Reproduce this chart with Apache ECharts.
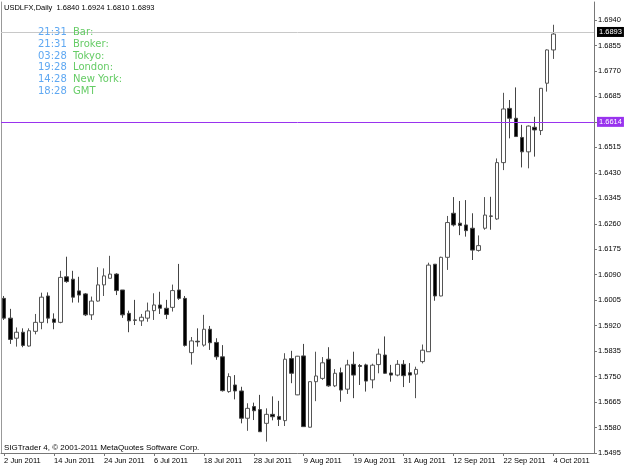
<!DOCTYPE html>
<html>
<head>
<meta charset="utf-8">
<title>USDLFX,Daily</title>
<script src="https://cdn.jsdelivr.net/npm/echarts@6/dist/echarts.min.js"></script>
<style>
  html, body { margin: 0; padding: 0; background: #fff; }
  #chart { width: 625px; height: 469px; }
</style>
</head>
<body>
<div id="chart"></div>
<script>
// daily bars, 2 Jun 2011 .. 4 Oct 2011
var dates = [
  '2 Jun 2011', '3 Jun 2011', '6 Jun 2011', '7 Jun 2011', '8 Jun 2011', '9 Jun 2011', '10 Jun 2011',
  '13 Jun 2011', '14 Jun 2011', '15 Jun 2011', '16 Jun 2011', '17 Jun 2011', '20 Jun 2011', '21 Jun 2011',
  '22 Jun 2011', '23 Jun 2011', '24 Jun 2011', '27 Jun 2011', '28 Jun 2011', '29 Jun 2011', '30 Jun 2011',
  '1 Jul 2011', '4 Jul 2011', '5 Jul 2011', '6 Jul 2011', '7 Jul 2011', '8 Jul 2011', '11 Jul 2011',
  '12 Jul 2011', '13 Jul 2011', '14 Jul 2011', '15 Jul 2011', '18 Jul 2011', '19 Jul 2011', '20 Jul 2011',
  '21 Jul 2011', '22 Jul 2011', '25 Jul 2011', '26 Jul 2011', '27 Jul 2011', '28 Jul 2011', '29 Jul 2011',
  '1 Aug 2011', '2 Aug 2011', '3 Aug 2011', '4 Aug 2011', '5 Aug 2011', '8 Aug 2011', '9 Aug 2011',
  '10 Aug 2011', '11 Aug 2011', '12 Aug 2011', '15 Aug 2011', '16 Aug 2011', '17 Aug 2011', '18 Aug 2011',
  '19 Aug 2011', '22 Aug 2011', '23 Aug 2011', '24 Aug 2011', '25 Aug 2011', '26 Aug 2011', '29 Aug 2011',
  '30 Aug 2011', '31 Aug 2011', '1 Sep 2011', '2 Sep 2011', '5 Sep 2011', '6 Sep 2011', '7 Sep 2011',
  '8 Sep 2011', '9 Sep 2011', '12 Sep 2011', '13 Sep 2011', '14 Sep 2011', '15 Sep 2011', '16 Sep 2011',
  '19 Sep 2011', '20 Sep 2011', '21 Sep 2011', '22 Sep 2011', '23 Sep 2011', '26 Sep 2011', '27 Sep 2011',
  '28 Sep 2011', '29 Sep 2011', '30 Sep 2011', '3 Oct 2011', '4 Oct 2011'
];

var opens = [
  1.6011, 1.5945, 1.5878, 1.5898, 1.5852, 1.5901, 1.5931, 1.6019, 1.5942, 1.5931,
  1.6083, 1.6075, 1.6036, 1.6026, 1.5956, 1.6002, 1.6056, 1.6078, 1.6092, 1.6039,
  1.5961, 1.5939, 1.5936, 1.5945, 1.5970, 1.5989, 1.5978, 1.5981, 1.6039, 1.6011,
  1.5830, 1.5868, 1.5855, 1.5908, 1.5864, 1.5816, 1.5700, 1.5722, 1.5702, 1.5611,
  1.5650, 1.5640, 1.5594, 1.5624, 1.5617, 1.5603, 1.5810, 1.5689, 1.5819, 1.5581,
  1.5733, 1.5744, 1.5808, 1.5719, 1.5763, 1.5708, 1.5791, 1.5787, 1.5789, 1.5739,
  1.5790, 1.5822, 1.5762, 1.5755, 1.5791, 1.5763, 1.5758, 1.5800, 1.5833, 1.6125,
  1.6019, 1.6148, 1.6295, 1.6262, 1.6256, 1.6245, 1.6171, 1.6245, 1.6286, 1.6276,
  1.6464, 1.6645, 1.6612, 1.6548, 1.6500, 1.6582, 1.6571, 1.6729, 1.6840
];
var highs = [
  1.6019, 1.5976, 1.5914, 1.5911, 1.5911, 1.5959, 1.6030, 1.6031, 1.5961, 1.6103,
  1.6150, 1.6103, 1.6083, 1.6029, 1.6017, 1.6115, 1.6111, 1.6153, 1.6095, 1.6039,
  1.5970, 1.6006, 1.5959, 1.5997, 1.6028, 1.6033, 1.6006, 1.6057, 1.6126, 1.6019,
  1.5882, 1.5911, 1.5956, 1.5919, 1.5878, 1.5855, 1.5761, 1.5755, 1.5716, 1.5661,
  1.5663, 1.5689, 1.5644, 1.5684, 1.5669, 1.5828, 1.5836, 1.5819, 1.5859, 1.5734,
  1.5833, 1.5815, 1.5848, 1.5775, 1.5780, 1.5806, 1.5833, 1.5792, 1.5793, 1.5793,
  1.5843, 1.5884, 1.5789, 1.5805, 1.5805, 1.5795, 1.5783, 1.5857, 1.6130, 1.6125,
  1.6150, 1.6286, 1.6349, 1.6336, 1.6339, 1.6295, 1.6221, 1.6349, 1.6350, 1.6478,
  1.6697, 1.6673, 1.6715, 1.6590, 1.6588, 1.6617, 1.6713, 1.6842, 1.6924
];
var lows = [
  1.5939, 1.5859, 1.5850, 1.5848, 1.5850, 1.5891, 1.5908, 1.5928, 1.5908, 1.5928,
  1.6063, 1.5997, 1.5997, 1.5952, 1.5939, 1.6000, 1.6019, 1.6078, 1.6022, 1.5946,
  1.5898, 1.5922, 1.5919, 1.5933, 1.5939, 1.5959, 1.5942, 1.5967, 1.6006, 1.5850,
  1.5790, 1.5850, 1.5850, 1.5839, 1.5806, 1.5700, 1.5696, 1.5674, 1.5594, 1.5569,
  1.5605, 1.5566, 1.5533, 1.5604, 1.5585, 1.5585, 1.5728, 1.5688, 1.5582, 1.5580,
  1.5668, 1.5739, 1.5716, 1.5715, 1.5666, 1.5692, 1.5678, 1.5722, 1.5700, 1.5711,
  1.5761, 1.5759, 1.5733, 1.5751, 1.5715, 1.5729, 1.5678, 1.5794, 1.5833, 1.6003,
  1.6018, 1.6106, 1.6251, 1.6222, 1.6217, 1.6139, 1.6167, 1.6240, 1.6240, 1.6273,
  1.6439, 1.6545, 1.6550, 1.6448, 1.6445, 1.6484, 1.6556, 1.6701, 1.6810
];
var closes = [
  1.5945, 1.5874, 1.5898, 1.5854, 1.5903, 1.5931, 1.6015, 1.5945, 1.5931, 1.6081,
  1.6067, 1.6015, 1.6022, 1.5956, 1.6002, 1.6056, 1.6086, 1.6092, 1.6037, 1.5956,
  1.5936, 1.5938, 1.5948, 1.5969, 1.5989, 1.5978, 1.5957, 1.6037, 1.6011, 1.5854,
  1.5869, 1.5866, 1.5908, 1.5863, 1.5816, 1.5703, 1.5750, 1.5702, 1.5611, 1.5644,
  1.5636, 1.5566, 1.5624, 1.5616, 1.5607, 1.5808, 1.5761, 1.5818, 1.5583, 1.5733,
  1.5752, 1.5796, 1.5719, 1.5761, 1.5705, 1.5789, 1.5755, 1.5784, 1.5735, 1.5788,
  1.5825, 1.5761, 1.5755, 1.5791, 1.5753, 1.5755, 1.5774, 1.5838, 1.6122, 1.6019,
  1.6148, 1.6264, 1.6256, 1.6254, 1.6237, 1.6172, 1.6187, 1.6289, 1.6285, 1.6464,
  1.6643, 1.6612, 1.6551, 1.6500, 1.6586, 1.6573, 1.6712, 1.6840, 1.6893
];

// price scale labels on the right
var priceTicks = [
  '1.5495', '1.5580', '1.5665', '1.5750', '1.5835', '1.5920', '1.6005', '1.6090', '1.6175',
  '1.6260', '1.6345', '1.6430', '1.6515', '1.6600', '1.6685', '1.6770', '1.6855', '1.6940'
];
var priceMin = 1.5495;
var priceMax = 1.7000;

var bidPrice = 1.6893;
var hLinePrice = 1.6614;

var headerText = 'USDLFX,Daily  1.6840 1.6924 1.6810 1.6893';
var clockTimes = ['21:31', '21:31', '03:28', '19:28', '14:28', '18:28'];
var clockNames = ['Bar:', 'Broker:', 'Tokyo:', 'London:', 'New York:', 'GMT'];
var footerText = 'SIGTrader 4, \u00a9 2001-2011 MetaQuotes Software Corp.';

var chart = echarts.init(document.getElementById('chart'));

// empty slots on the right, like the terminal's chart shift
var axisCats = dates.concat(['', '', '', '', '', '']);

var candles = dates.map(function (d, i) {
  return [opens[i], closes[i], lows[i], highs[i]];
});

var labelFont = 'Liberation Sans';

var graphics = [
  {
    type: 'text', x: 4, y: 8, z: 100,
    style: { text: headerText, fill: '#000', font: '7.5px "Liberation Sans"', verticalAlign: 'middle' }
  },
  {
    type: 'text', x: 4, y: 448, z: 100,
    style: { text: footerText, fill: '#000', font: '8px "Liberation Sans"', verticalAlign: 'middle' }
  }
];
clockTimes.forEach(function (t, i) {
  var y = 32.5 + i * 11.8;
  graphics.push({
    type: 'text', x: 38, y: y, z: 100,
    style: { text: t, fill: '#5fa8f2', font: '10px "DejaVu Sans"', verticalAlign: 'middle' }
  });
  graphics.push({
    type: 'text', x: 73, y: y, z: 100,
    style: { text: clockNames[i], fill: '#66cc66', font: '10px "DejaVu Sans"', verticalAlign: 'middle' }
  });
});

var option = {
  animation: false,
  backgroundColor: '#fff',
  grid: { left: 1, right: 31, top: 2, bottom: 16, containLabel: false },
  xAxis: {
    type: 'category',
    data: axisCats,
    boundaryGap: true,
    axisLine: { show: true, lineStyle: { color: '#777', width: 1 } },
    axisTick: {
      show: true,
      alignWithLabel: true,
      length: 3,
      interval: function (idx) { return idx % 8 === 0 && idx < dates.length; },
      lineStyle: { color: '#777' }
    },
    axisLabel: {
      interval: function (idx) { return idx % 8 === 0 && idx < dates.length; },
      align: 'left',
      margin: 4,
      color: '#000',
      fontFamily: labelFont,
      fontSize: 7.5
    },
    splitLine: { show: false }
  },
  yAxis: [
    {
      type: 'value',
      position: 'right',
      min: priceMin,
      max: priceMax,
      scale: true,
      axisLine: { show: true, lineStyle: { color: '#777', width: 1 } },
      axisTick: {
        show: true,
        length: 3,
        customValues: priceTicks.map(Number),
        lineStyle: { color: '#777' }
      },
      axisLabel: {
        customValues: priceTicks.map(Number),
        formatter: function (v) { return v.toFixed(4); },
        margin: 4,
        color: '#000',
        fontFamily: labelFont,
        fontSize: 7.5
      },
      splitLine: { show: false }
    },
    {
      type: 'value',
      position: 'left',
      min: priceMin,
      max: priceMax,
      axisLine: { show: true, onZero: false, lineStyle: { color: '#999', width: 1 } },
      axisTick: { show: false },
      axisLabel: { show: false },
      splitLine: { show: false }
    }
  ],
  graphic: graphics,
  series: [
    {
      name: 'USDLFX',
      type: 'candlestick',
      yAxisIndex: 0,
      barWidth: 4,
      data: candles,
      itemStyle: {
        color: '#fff',
        color0: '#000',
        borderColor: '#555',
        borderColor0: '#444',
        borderWidth: 1
      },
      markLine: {
        silent: true,
        symbol: ['none', 'none'],
        animation: false,
        data: [
          {
            yAxis: bidPrice,
            lineStyle: { color: '#c8c8c8', type: 'solid', width: 1 },
            label: {
              show: true, position: 'end', distance: 3,
              formatter: bidPrice.toFixed(4),
              color: '#fff', backgroundColor: '#000', padding: [1, 2, 1, 2],
              fontFamily: labelFont, fontSize: 7.5
            }
          },
          {
            yAxis: hLinePrice,
            lineStyle: { color: '#9933ee', type: 'solid', width: 1 },
            label: {
              show: true, position: 'end', distance: 3,
              formatter: hLinePrice.toFixed(4),
              color: '#fff', backgroundColor: '#9933ee', padding: [1, 2, 1, 2],
              fontFamily: labelFont, fontSize: 7.5
            }
          }
        ]
      }
    }
  ]
};

chart.setOption(option);
</script>
</body>
</html>
